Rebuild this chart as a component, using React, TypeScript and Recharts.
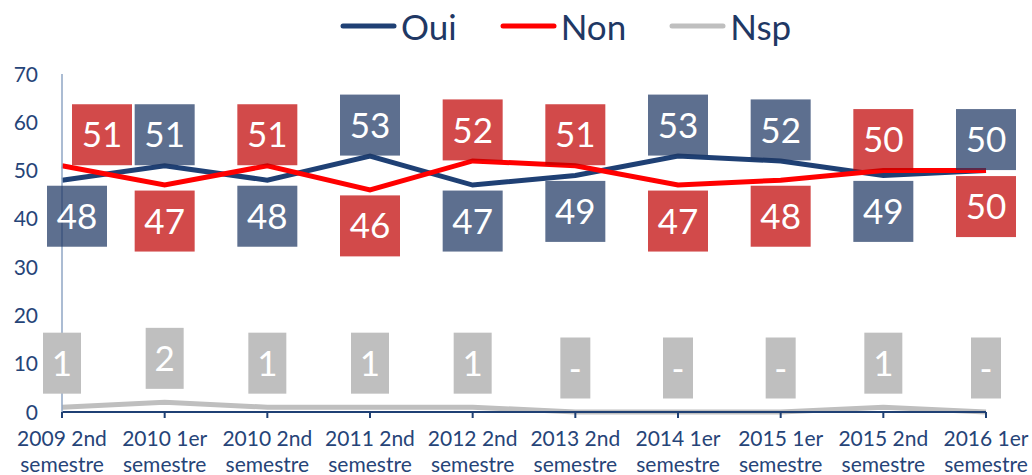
import React from "react";
import { LineChart, Line, XAxis, YAxis, Legend, LabelList } from "recharts";

const categories = [
  "2009 2nd semestre",
  "2010 1er semestre",
  "2010 2nd semestre",
  "2011 2nd semestre",
  "2012 2nd semestre",
  "2013 2nd semestre",
  "2014 1er semestre",
  "2015 1er semestre",
  "2015 2nd semestre",
  "2016 1er semestre",
];
const oui = [48, 51, 48, 53, 47, 49, 53, 52, 49, 50];
const non = [51, 47, 51, 46, 52, 51, 47, 48, 50, 50];
const nsp = [1, 2, 1, 1, 1, 0, 0, 0, 1, 0];
const yTicks = [0, 10, 20, 30, 40, 50, 60, 70];

const data = categories.map((c, i) => ({ cat: c, oui: oui[i], non: non[i], nsp: nsp[i] }));

const FONT = "Lato, 'Open Sans', sans-serif";
const NAVY = "#1F4074";
const AXIS_TEXT = "#264478";
const MIN_BOX_CX = 77;

const boxWidth = (s: string) => (s.length >= 2 ? 60 : s === "-" ? 30 : 38);

const Box = ({ cx, cy, text, fill }: { cx: number; cy: number; text: string; fill: string }) => {
  const w = boxWidth(text);
  return (
    <g>
      <rect x={cx - w / 2} y={cy - 30.5} width={w} height={61} fill={fill} />
      <text
        x={cx}
        y={cy}
        dy="0.36em"
        textAnchor="middle"
        fill="#ffffff"
        fontSize={35}
        fontFamily={FONT}
      >
        {text}
      </text>
    </g>
  );
};

const OuiLabel = (props: any) => {
  const { x, y, index, value } = props;
  const above = oui[index] >= non[index];
  return (
    <Box cx={Math.max(x, MIN_BOX_CX)} cy={above ? y - 31 : y + 36} text={String(value)} fill="rgba(31,56,100,0.72)" />
  );
};

const NonLabel = (props: any) => {
  const { x, y, index, value } = props;
  const above = non[index] > oui[index];
  return (
    <Box
      cx={Math.max(x, MIN_BOX_CX + (above ? 25 : 0))}
      cy={above ? y - 31 : y + 36}
      text={String(value)}
      fill="rgba(192,0,0,0.71)"
    />
  );
};

const NspLabel = (props: any) => {
  const { x, y, value } = props;
  return <Box cx={x} cy={y - 44} text={value === 0 ? "-" : String(value)} fill="#BFBFBF" />;
};

const XTick = (props: any) => {
  const { x, y, payload } = props;
  const words = String(payload.value).split(" ");
  const l1 = words.slice(0, 2).join(" ");
  const l2 = words.slice(2).join(" ");
  return (
    <text x={x} y={y} textAnchor="middle" fill={AXIS_TEXT} fontSize={21} fontFamily={FONT}>
      <tspan x={x} dy={26}>{l1}</tspan>
      <tspan x={x} dy={26}>{l2}</tspan>
    </text>
  );
};

const YTick = (props: any) => {
  const { y, payload } = props;
  return (
    <text x={38} y={y} dy="0.36em" textAnchor="end" fill={AXIS_TEXT} fontSize={21} fontFamily={FONT}>
      {payload.value}
    </text>
  );
};

const legendItems = [
  { name: "Oui", color: NAVY },
  { name: "Non", color: "#FF0000" },
  { name: "Nsp", color: "#BFBFBF" },
];

const LegendContent = () => (
  <div style={{ display: "flex", alignItems: "center", fontFamily: FONT }}>
    {legendItems.map((it, i) => (
      <div key={it.name} style={{ display: "flex", alignItems: "center", marginRight: i < 2 ? 43 : 0 }}>
        <svg width={57} height={10} style={{ display: "block" }}>
          <line x1={3} y1={5} x2={54} y2={5} stroke={it.color} strokeWidth={5} strokeLinecap="round" />
        </svg>
        <span style={{ color: "#1F3864", fontSize: 35, lineHeight: "40px", marginLeft: 4 }}>{it.name}</span>
      </div>
    ))}
  </div>
);

export default function App() {
  return (
    <div style={{ position: "absolute", left: 0, top: 0, width: 1032, height: 475, background: "#fff" }}>
      <LineChart width={1032} height={475} data={data} margin={{ top: 34, right: 46, bottom: 0, left: 0 }}>
        <XAxis
          dataKey="cat"
          interval={0}
          tick={<XTick />}
          axisLine={{ stroke: NAVY, strokeWidth: 2 }}
          tickLine={{ stroke: NAVY, strokeWidth: 2 }}
          tickSize={6}
          height={63}
          padding={{ left: 0, right: 0 }}
        />
        <YAxis
          domain={[0, 70]}
          ticks={yTicks}
          width={62}
          axisLine={{ stroke: "#8FA6C4", strokeWidth: 1.5 }}
          tickLine={false}
          tick={<YTick />}
          interval={0}
        />
        <Legend
          verticalAlign="top"
          content={<LegendContent />}
          wrapperStyle={{ position: "absolute", top: 6, left: 340, width: 480, height: 40 }}
        />
        <Line dataKey="nsp" stroke="#BFBFBF" strokeWidth={5} dot={false} isAnimationActive={false} name="Nsp">
          <LabelList dataKey="nsp" content={NspLabel} />
        </Line>
        <Line dataKey="oui" stroke={NAVY} strokeWidth={5} dot={false} isAnimationActive={false} name="Oui">
          <LabelList dataKey="oui" content={OuiLabel} />
        </Line>
        <Line dataKey="non" stroke="#FF0000" strokeWidth={5} dot={false} isAnimationActive={false} name="Non">
          <LabelList dataKey="non" content={NonLabel} />
        </Line>
      </LineChart>
    </div>
  );
}
